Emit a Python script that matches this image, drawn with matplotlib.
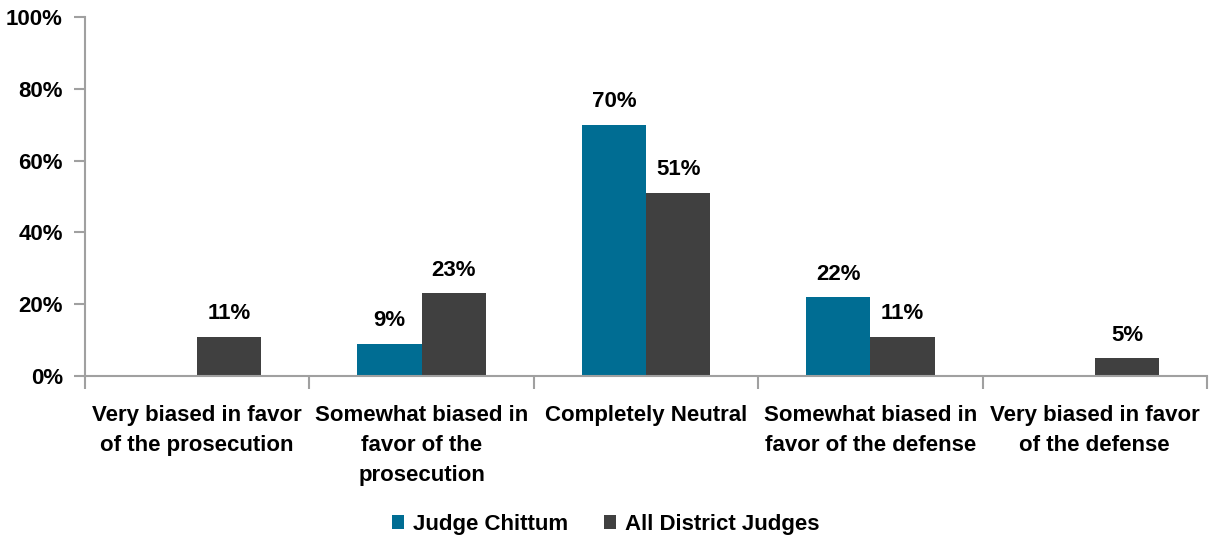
import numpy as np
import matplotlib.pyplot as plt
from matplotlib import font_manager

categories = ['Very biased in favor\nof the prosecution',
              'Somewhat biased in\nfavor of the\nprosecution',
              'Completely Neutral',
              'Somewhat biased in\nfavor of the defense',
              'Very biased in favor\nof the defense']
chittum = [0, 9, 70, 22, 0]
all_judges = [11, 23, 51, 11, 5]
series_names = ['Judge Chittum', 'All District Judges']
yticks = [0, 20, 40, 60, 80, 100]

names = {f.name for f in font_manager.fontManager.ttflist}
fam = 'Liberation Sans Narrow' if 'Liberation Sans Narrow' in names else 'Liberation Sans'
plt.rcParams['font.family'] = [fam, 'DejaVu Sans']
plt.rcParams['font.weight'] = 'bold'

teal = '#006d93'
dark = '#404040'
axis_grey = '#a0a0a0'

fig = plt.figure(figsize=(12.11, 5.44), dpi=100)
ax = fig.add_axes([0.0702, 0.3088, 0.9265, 0.6599])

x = np.arange(len(categories))
w = 0.286
b1 = ax.bar(x - w / 2, chittum, w, color=teal, label=series_names[0])
b2 = ax.bar(x + w / 2, all_judges, w, color=dark, label=series_names[1])

for bars, vals in ((b1, chittum), (b2, all_judges)):
    for r, v in zip(bars, vals):
        if v == 0:
            continue
        ax.annotate(f'{v}%', (r.get_x() + r.get_width() / 2, v),
                    xytext=(0, 9), textcoords='offset points',
                    ha='center', va='bottom', fontsize=16, fontweight='bold')

ax.set_xlim(-0.5, len(categories) - 0.5)
ax.set_ylim(0, 100)
ax.set_yticks(yticks)
ax.set_yticklabels([f'{t}%' for t in yticks], fontsize=16, fontweight='bold')

ax.set_xticks(x)
ax.set_xticklabels(categories, fontsize=16, fontweight='bold', va='top', linespacing=1.55)
ax.tick_params(axis='x', length=0, pad=21)
ax.set_xticks(np.arange(-0.5, len(categories)), minor=True)
ax.tick_params(axis='x', which='minor', length=9, color=axis_grey, width=1.5, direction='out')
ax.tick_params(axis='y', length=8, color=axis_grey, width=1.5, direction='out', pad=8)

for s in ('top', 'right'):
    ax.spines[s].set_visible(False)
for s in ('left', 'bottom'):
    ax.spines[s].set_color(axis_grey)
    ax.spines[s].set_linewidth(1.5)

fig.legend(handles=[b1, b2], labels=series_names, loc='lower center',
           bbox_to_anchor=(0.5, -0.02), ncol=2, frameon=False,
           prop={'size': 16, 'weight': 'bold'}, handlelength=0.55, handleheight=0.55,
           handletextpad=0.4, columnspacing=1.6)

fig.savefig('out.png', dpi=100)
